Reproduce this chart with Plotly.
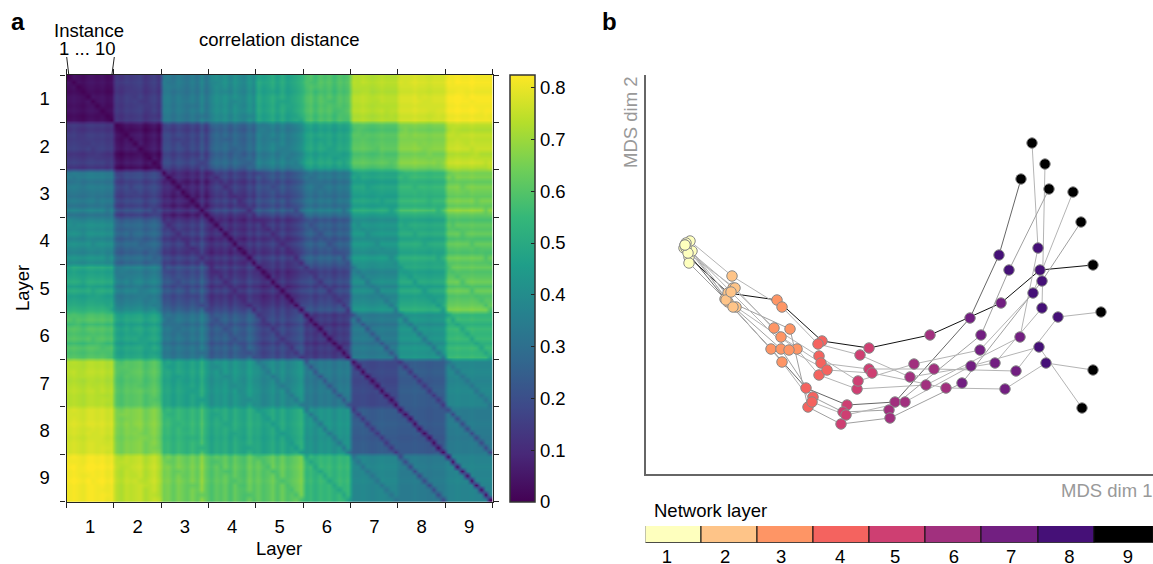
"""Layer distance matrix and MDS trajectories, two panels in one Plotly figure."""

import numpy as np
import plotly.graph_objects as go

W, H = 1153, 564
FONT = "Liberation Sans"
FS = 18.5
GREY = "#999999"

layer_labels = ["1", "2", "3", "4", "5", "6", "7", "8", "9"]
n_instances = 10

# mean correlation distance between layers
block_mean = [
    [0.03, 0.14, 0.33, 0.39, 0.48, 0.58, 0.73, 0.77, 0.81],
    [0.14, 0.04, 0.17, 0.26, 0.35, 0.47, 0.60, 0.66, 0.74],
    [0.33, 0.17, 0.08, 0.14, 0.20, 0.31, 0.47, 0.54, 0.64],
    [0.39, 0.26, 0.14, 0.10, 0.13, 0.23, 0.42, 0.49, 0.60],
    [0.48, 0.35, 0.20, 0.13, 0.11, 0.17, 0.39, 0.48, 0.61],
    [0.58, 0.47, 0.31, 0.23, 0.17, 0.13, 0.33, 0.42, 0.54],
    [0.73, 0.60, 0.47, 0.42, 0.39, 0.33, 0.18, 0.24, 0.38],
    [0.77, 0.66, 0.54, 0.49, 0.48, 0.42, 0.24, 0.23, 0.34],
    [0.81, 0.74, 0.64, 0.60, 0.61, 0.54, 0.38, 0.34, 0.37],
]

# same instance, different layer: the thin diagonal stripes off the main one
same_instance = [
    [0.00, 0.14, 0.33, 0.39, 0.48, 0.58, 0.73, 0.77, 0.81],
    [0.14, 0.00, 0.16, 0.26, 0.35, 0.47, 0.60, 0.66, 0.74],
    [0.33, 0.16, 0.00, 0.10, 0.18, 0.30, 0.46, 0.53, 0.63],
    [0.39, 0.26, 0.10, 0.00, 0.09, 0.20, 0.40, 0.48, 0.59],
    [0.48, 0.35, 0.18, 0.09, 0.00, 0.12, 0.33, 0.44, 0.58],
    [0.58, 0.47, 0.30, 0.20, 0.12, 0.00, 0.21, 0.32, 0.48],
    [0.73, 0.60, 0.46, 0.40, 0.33, 0.21, 0.00, 0.12, 0.31],
    [0.77, 0.66, 0.53, 0.48, 0.44, 0.32, 0.12, 0.00, 0.17],
    [0.81, 0.74, 0.63, 0.59, 0.58, 0.48, 0.31, 0.17, 0.00],
]

# how far each instance of a layer sits from the layer mean (the plaid bands)
instance_shift = [
    [0.00, 0.01, 0.00, -0.01, 0.01, 0.01, 0.00, 0.01, -0.01, 0.00],
    [0.00, -0.02, 0.01, 0.00, 0.01, 0.02, -0.02, 0.00, 0.02, -0.02],
    [0.01, 0.02, -0.02, 0.02, 0.00, -0.02, 0.02, -0.02, 0.05, -0.02],
    [-0.02, 0.02, 0.00, 0.03, -0.02, 0.03, 0.00, -0.02, 0.04, 0.00],
    [0.02, -0.02, 0.00, 0.03, -0.02, 0.03, -0.02, 0.00, 0.02, 0.05],
    [0.00, 0.02, -0.02, 0.02, 0.00, 0.02, -0.02, 0.02, 0.00, 0.02],
    [0.00, 0.00, 0.01, 0.00, -0.01, 0.00, 0.01, 0.00, 0.00, 0.00],
    [0.00, 0.00, 0.00, 0.01, 0.00, 0.00, -0.01, 0.00, 0.00, 0.00],
    [0.00, 0.00, 0.01, 0.00, 0.00, 0.01, 0.00, 0.00, 0.00, 0.00],
]

colorbar_ticks = [0, 0.1, 0.2, 0.3, 0.4, 0.5, 0.6, 0.7, 0.8]

# MDS coordinates per layer, each list runs over instances 0..9, y grows downward
mds_x = [
    [684, 689, 692, 690, 686, 686, 689, 688, 685, 685],
    [725, 728, 736, 732, 728, 733, 726, 735, 731, 733],
    [771, 777, 797, 782, 781, 774, 790, 781, 789, 782],
    [806, 822, 819, 818, 813, 819, 808, 821, 827, 812],
    [847, 869, 857, 860, 843, 858, 841, 869, 872, 846],
    [895, 930, 926, 910, 889, 914, 890, 934, 946, 905],
    [970, 1001, 1020, 995, 981, 980, 962, 1016, 1005, 971],
    [999, 1040, 1038, 1042, 1009, 1033, 1042, 1058, 1046, 1039],
    [1021, 1093, 1032, 1045, 1049, 1073, 1081, 1101, 1093, 1082],
]
mds_y = [
    [248, 257, 251, 241, 243, 248, 263, 253, 245, 245],
    [299, 293, 307, 276, 302, 288, 300, 288, 292, 307],
    [349, 300, 349, 307, 349, 328, 329, 337, 350, 362],
    [388, 341, 375, 344, 397, 356, 407, 363, 370, 402],
    [405, 348, 389, 355, 412, 381, 424, 369, 373, 415],
    [402, 335, 385, 377, 410, 364, 418, 369, 388, 402],
    [318, 303, 337, 363, 335, 350, 383, 371, 389, 366],
    [255, 270, 248, 308, 270, 293, 281, 317, 363, 347],
    [179, 265, 143, 164, 189, 192, 222, 312, 370, 408],
]
line_colors = ["#666666", "#111111", "#b4b4b4", "#b4b4b4", "#a0a0a0",
               "#b4b4b4", "#a0a0a0", "#b4b4b4", "#b4b4b4", "#b4b4b4"]
layer_colors = ["#FEFFBE", "#FEC488", "#FE9565", "#F4635F", "#CE3F72",
                "#A1307E", "#721F81", "#451077", "#000000"]
strip_heights = [1, 1, 1, 1, 1, 1, 1, 1, 1]
strip_widths = [1, 1, 1, 1, 1, 1, 1, 1, 1.05]  # last cell runs off the page edge
strip_tick_pos = [0.88, 1.92, 2.92, 3.97, 4.95, 6.0, 7.02, 8.06, 9.1]


def px(x):
    return x / W


def py(y):
    return 1 - y / H


# build the 90 x 90 matrix from the tables above
n = len(layer_labels) * n_instances
z = np.zeros((n, n))
for a in range(9):
    for b in range(9):
        for i in range(n_instances):
            for j in range(n_instances):
                if i == j:
                    v = same_instance[a][b]
                else:
                    v = block_mean[a][b] + instance_shift[a][i] + instance_shift[b][j]
                z[a * n_instances + i, b * n_instances + j] = max(v, 0)

fig = go.Figure()

fig.add_trace(go.Heatmap(
    z=z, xaxis="x", yaxis="y", colorscale="Viridis", zmin=0, zmax=0.825,
    hoverinfo="skip", zsmooth="best",
    colorbar=dict(
        x=px(510), xanchor="left", xpad=0, y=py(288.3), yanchor="middle", ypad=0,
        thickness=25, lenmode="pixels", len=426.7,
        outlinecolor="#333333", outlinewidth=1.5,
        tickvals=colorbar_ticks, ticktext=["0", "0.1", "0.2", "0.3", "0.4", "0.5", "0.6", "0.7", "0.8"],
        ticks="inside", ticklen=4, tickcolor="#222222", tickfont=dict(size=FS, color="black"),
    ),
))

# instance trajectories first so the markers sit on top
for k in range(n_instances):
    fig.add_trace(go.Scatter(
        x=[col[k] for col in mds_x], y=[col[k] for col in mds_y],
        xaxis="x2", yaxis="y2", mode="lines",
        line=dict(color=line_colors[k], width=1), hoverinfo="skip", showlegend=False,
    ))
for lx, ly, c in zip(mds_x, mds_y, layer_colors):
    fig.add_trace(go.Scatter(
        x=lx, y=ly, xaxis="x2", yaxis="y2", mode="markers",
        marker=dict(color=c, size=10.5, line=dict(color="#8a8a8a", width=1)),
        showlegend=False,
    ))

fig.add_trace(go.Bar(
    x=list(range(1, 10)), y=strip_heights, width=strip_widths, offset=-0.5, xaxis="x3", yaxis="y3",
    marker=dict(color=layer_colors, line=dict(color="#111111", width=1)),
    showlegend=False,
))

block_tick_pos = [4.5 + 10 * i for i in range(9)]
heat_axis = dict(
    tickmode="array", tickvals=block_tick_pos, ticktext=layer_labels,
    ticks="outside", tickcolor="rgba(0,0,0,0)", automargin=False,
    tickfont=dict(size=FS, color="black"),
    minor=dict(tick0=-0.5, dtick=10, ticks="outside", ticklen=5, tickcolor="#222222", tickwidth=1),
    showgrid=False, zeroline=False, showline=True, linecolor="#222222", linewidth=1.2,
    mirror="ticks",
)

fig.update_layout(
    width=W, height=H,
    margin=dict(l=0, r=0, t=0, b=0),
    paper_bgcolor="white", plot_bgcolor="white",
    font=dict(family=FONT, size=FS, color="black"),
    showlegend=False,
    bargap=0,
    xaxis=dict(heat_axis, domain=[px(66.5), px(492.7)], anchor="y", range=[-0.5, 89.5], ticklen=8),
    yaxis=dict(heat_axis, domain=[py(501.7), py(75)], anchor="x", range=[89.5, -0.5], ticklen=12),
    xaxis2=dict(domain=[px(645.5), 1], anchor="y2", range=[645.5, 1153], showticklabels=False,
                automargin=False, ticks="", showgrid=False, zeroline=False, showline=True,
                linecolor="#666666", linewidth=1.5),
    yaxis2=dict(domain=[py(474), py(75)], anchor="x2", range=[474, 75], showticklabels=False,
                automargin=False, ticks="", showgrid=False, zeroline=False, showline=True,
                linecolor="#666666", linewidth=1.5),
    xaxis3=dict(domain=[px(645.5), 1], anchor="y3", range=[0.5, 9.55], tickmode="array",
                automargin=False, tickvals=strip_tick_pos, ticktext=layer_labels, ticks="",
                ticklabelstandoff=1, showgrid=False, zeroline=False,
                tickfont=dict(size=FS, color="black")),
    yaxis3=dict(domain=[py(542.7), py(526)], anchor="x3", range=[0, 1], visible=False, automargin=False),
)

texts = [
    ("<b>a</b>", 18, 21, 24, "black", 0),
    ("<b>b</b>", 609, 21, 24, "black", 0),
    ("Instance", 89, 30, FS, "black", 0),
    ("1 ... 10", 87, 48, FS, "black", 0),
    ("correlation distance", 279, 40, FS, "black", 0),
    ("Layer", 279, 548, FS, "black", 0),
    ("Layer", 22, 288, FS, "black", -90),
    ("MDS dim 2", 630, 122, FS, GREY, -90),
    ("MDS dim 1", 1107, 490, FS, GREY, 0),
    ("Network layer", 710, 510, FS, "black", 0),
]
for text, x, y, size, color, angle in texts:
    fig.add_annotation(x=px(x), y=py(y), xref="paper", yref="paper", text=text, showarrow=False,
                       xanchor="center", yanchor="middle", textangle=angle,
                       font=dict(size=size, color=color, family=FONT))

# little leaders from "1 ... 10" down to the first and last instance
for x0, x1 in [(66.7, 68.7), (114.3, 112)]:
    fig.add_shape(type="line", xref="paper", yref="paper", x0=px(x0), x1=px(x1), y0=py(57), y1=py(74),
                  line=dict(color="#222222", width=1))

# the page body has a default margin that would push the figure off the window
fig.write_html("out.html", config={"displayModeBar": False},
               post_script="document.body.style.margin='0';")
